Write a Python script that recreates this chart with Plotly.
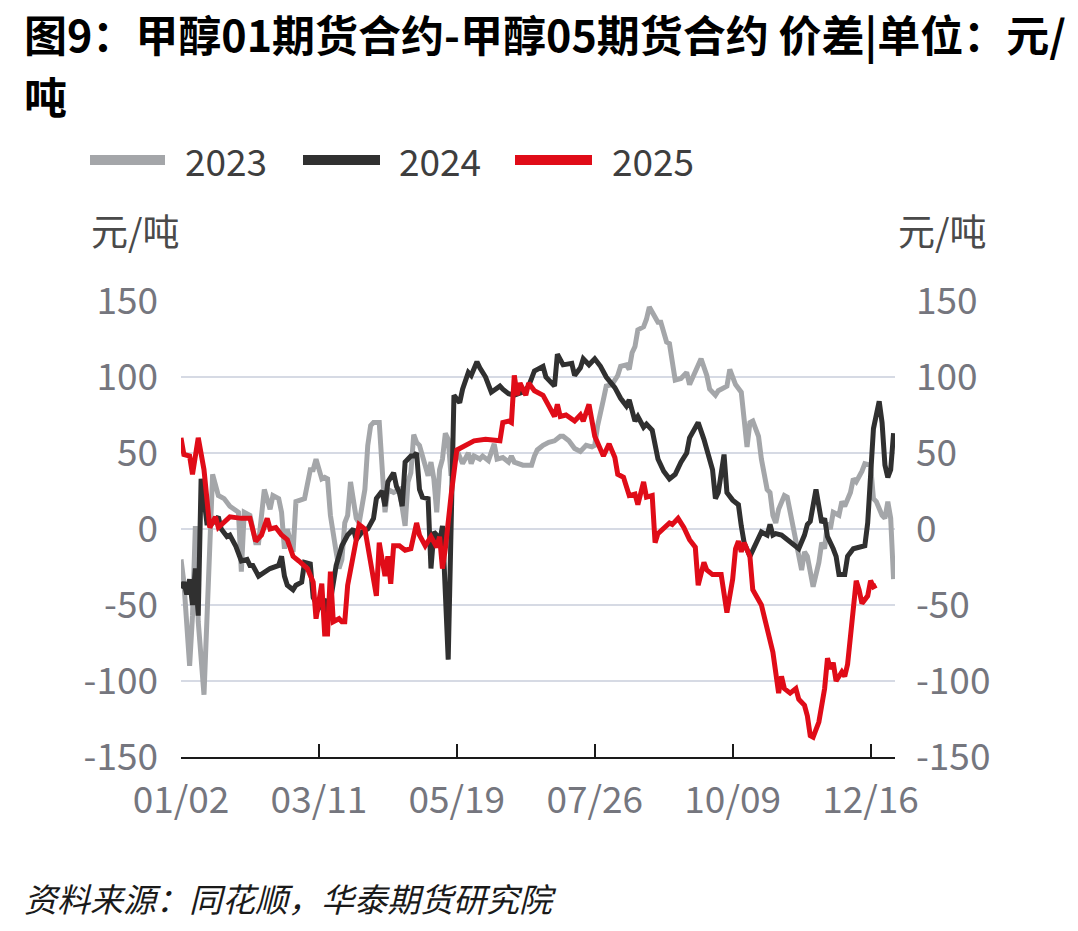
import plotly.graph_objects as go

# ---------------- data (x = trading-day index within the year) ----------------
tick_vals = [0, 48, 96, 144, 192, 240, 248.5]
tick_text = ["01/02", "03/11", "05/19", "07/26", "10/09", "12/16", ""]
y_ticks = [-150, -100, -50, 0, 50, 100, 150]
y_tick_text = ["-150", "-100", "-50", "0", "50", "100", "150"]

x2023 = [0, 1, 3, 4, 5, 6, 8, 9, 10, 11, 13, 15, 17, 20, 21, 22, 24, 26, 27, 29,
         31, 32, 34, 35, 36, 37, 39, 40, 43, 45, 46, 47, 49, 50, 51, 52, 54, 55, 56, 57,
         58, 59, 61, 62, 64, 65, 66, 67, 69, 70, 71, 72, 74, 76, 78, 79, 80, 81, 82, 83,
         85, 86, 87, 88, 89, 90, 91, 92, 93, 94, 96, 97, 98, 100, 101, 102, 104, 105, 107, 109,
         110, 112, 114, 115, 116, 119, 122, 123, 124, 126, 128, 130, 132, 133, 135, 137, 139, 141, 143, 144,
         145, 147, 148, 150, 152, 153, 155, 156, 157, 158, 159, 161, 162, 163, 164, 165, 166, 167, 169, 170,
         171, 172, 174, 176, 177, 179, 181, 183, 184, 186, 187, 190, 191, 193, 195, 196, 197, 198, 199, 201,
         202, 204, 205, 206, 207, 208, 210, 211, 213, 215, 216, 217, 218, 219, 220, 222, 223, 224, 225, 226,
         227, 229, 230, 231, 233, 234, 235, 237, 238, 240, 241, 242, 244, 245, 246, 247, 248]
y2023 = [-20, -35, -90, -57, 2, -61, -109, -61, 4, 36, 22, 20, 15, 11, -28, 11, 9, -9, -9, 26,
         13, 22, 20, 11, -13, 0, -15, 18, 20, 39, 39, 46, 33, 34, 33, 9, -15, -26, -20, 4,
         9, 31, 7, 4, 26, 55, 68, 70, 70, 42, 11, 26, 24, 26, 2, 31, 37, 62, 57, 55,
         42, 35, 44, 33, 11, 39, 46, 63, 59, 35, 52, 48, 43, 50, 43, 48, 46, 48, 45, 56,
         46, 47, 44, 48, 44, 42, 42, 48, 52, 55, 57, 58, 61, 61, 58, 53, 51, 55, 54, 55,
         68, 85, 94, 95, 101, 107, 108, 105, 116, 120, 131, 133, 138, 146, 143, 140, 136, 136, 123, 122,
         111, 98, 99, 103, 95, 103, 112, 101, 92, 88, 91, 94, 105, 95, 90, 72, 54, 70, 71, 61,
         46, 26, 24, 9, 4, 13, 22, 21, 0, -18, -27, -15, -18, -28, -38, -22, -9, -13, 4, 0,
         11, 9, 18, 15, 24, 33, 31, 38, 43, 42, 20, 18, 9, 7, 18, 7, -33]

x2024 = [0, 1, 2, 3, 4, 5, 6, 7, 8, 9, 11, 13, 14, 16, 17, 19, 21, 23, 24, 25,
         27, 29, 31, 34, 35, 36, 37, 39, 40, 42, 43, 45, 46, 48, 50, 51, 53, 54, 56, 58,
         60, 61, 63, 65, 67, 68, 70, 71, 72, 74, 75, 76, 77, 78, 80, 81, 82, 83, 84, 86,
         87, 88, 89, 90, 91, 92, 93, 95, 96, 97, 98, 100, 101, 103, 104, 106, 108, 111, 112, 114,
         116, 119, 121, 123, 126, 127, 130, 131, 133, 135, 136, 137, 139, 140, 142, 144, 146, 148, 151, 153,
         155, 156, 158, 159, 161, 162, 164, 166, 168, 170, 172, 174, 176, 177, 179, 180, 182, 184, 185, 186,
         187, 189, 190, 192, 194, 195, 196, 198, 200, 202, 204, 205, 206, 207, 209, 211, 213, 215, 217, 218,
         219, 221, 222, 223, 224, 225, 227, 228, 229, 231, 232, 234, 236, 238, 239, 240, 241, 243, 244, 245,
         246, 247, 248]
y2024 = [-39, -35, -43, -33, -50, -26, -57, 33, 20, 4, 4, 8, 0, -5, -4, -11, -21, -20, -24, -24,
         -31, -28, -26, -24, -18, -31, -37, -40, -37, -35, -22, -23, -45, -52, -46, -59, -33, -24, -11, -4,
         0, -7, -2, 0, 7, 20, 25, 15, 31, 37, 28, 24, 15, 44, 48, 48, 50, 26, 21, 20,
         -26, -2, -4, -9, 2, -39, -86, 88, 85, 83, 92, 103, 101, 110, 106, 100, 90, 94, 92, 89,
         88, 90, 94, 104, 107, 100, 94, 115, 108, 109, 109, 101, 106, 112, 108, 112, 107, 100, 93, 86,
         81, 85, 71, 74, 67, 69, 65, 46, 38, 33, 36, 44, 50, 60, 66, 70, 59, 46, 39, 20,
         24, 49, 24, 19, 16, 2, -9, -18, -9, -2, -4, 3, -4, -3, -4, -7, -11, -13, -4, 3,
         5, 26, 15, 4, 7, -5, -13, -18, -30, -30, -18, -13, -12, -11, 4, 35, 66, 84, 70, 42,
         34, 39, 63]

x2025 = [0, 1, 3, 4, 6, 7, 8, 10, 12, 13, 15, 17, 21, 24, 26, 28, 30, 31, 33, 35,
         37, 39, 41, 44, 46, 47, 49, 50, 51, 52, 53, 55, 56, 57, 58, 61, 62, 64, 66, 68,
         69, 71, 72, 73, 74, 76, 78, 80, 82, 83, 85, 87, 89, 90, 91, 92, 94, 96, 97, 99,
         102, 106, 111, 112, 114, 115, 116, 117, 118, 120, 121, 123, 126, 128, 130, 131, 132, 134, 137, 139,
         140, 142, 143, 144, 147, 149, 151, 152, 154, 156, 158, 159, 161, 162, 164, 165, 166, 168, 170, 171,
         173, 175, 177, 179, 180, 182, 183, 185, 188, 190, 192, 193, 194, 195, 196, 198, 199, 202, 204, 206,
         208, 209, 210, 212, 214, 215, 217, 218, 219, 220, 222, 224, 225, 226, 227, 228, 230, 231, 232, 234,
         235, 236, 237, 239, 240, 241, 242]
y2025 = [60, 49, 48, 36, 60, 48, 39, 1, 8, 1, 4, 8, 7, 7, -8, -4, 7, 0, 1, -4,
         -7, -18, -21, -26, -35, -59, -36, -69, -69, -28, -61, -59, -61, -61, -37, -9, 3, 0, -20, -44,
         -9, -31, -18, -36, -11, -11, -14, -13, 4, -4, -11, -5, -12, -5, -26, -13, 22, 52, 53, 55,
         58, 59, 58, 70, 71, 70, 101, 88, 96, 88, 96, 91, 88, 81, 74, 82, 74, 75, 71, 75,
         71, 82, 70, 61, 48, 56, 47, 36, 34, 22, 23, 16, 31, 21, 22, -9, -3, 0, 4, 3,
         7, 1, -7, -12, -37, -22, -27, -30, -30, -55, -33, -13, -8, -15, -9, -18, -40, -50, -66, -81,
         -108, -97, -105, -108, -105, -112, -116, -123, -136, -137, -127, -105, -85, -92, -88, -100, -94, -97, -89, -53,
         -34, -40, -49, -44, -34, -38, -37]

series_names = ["2023", "2024", "2025"]
series_colors = ["#a4a6a9", "#303030", "#e00c18"]

# ---------------- layout geometry (pixels) ----------------
W, H = 1078, 931
L, R, T, B = 181, 895, 301, 757


def pxx(v):
    return (v - L) / (R - L)


def pxy(v):
    return (B - v) / (B - T)


FONT = "Noto Sans CJK SC"
TICK_COLOR = "#75767e"

fig = go.Figure()
fig.add_trace(go.Scatter(x=x2023, y=y2023, mode="lines", name=series_names[0],
                         line=dict(color=series_colors[0], width=5), yaxis="y"))
fig.add_trace(go.Scatter(x=x2024, y=y2024, mode="lines", name=series_names[1],
                         line=dict(color=series_colors[1], width=5), yaxis="y"))
fig.add_trace(go.Scatter(x=x2025, y=y2025, mode="lines", name=series_names[2],
                         line=dict(color=series_colors[2], width=5), yaxis="y2"))

yaxis_common = dict(range=[-150, 150], tickmode="array", tickvals=y_ticks, ticktext=y_tick_text,
                    tickfont=dict(family=FONT, size=37, color=TICK_COLOR),
                    zeroline=False, showline=False, ticks="", fixedrange=True)

fig.update_layout(
    width=W, height=H,
    margin=dict(l=L, r=W - R, t=T, b=H - B, pad=0),
    paper_bgcolor="white", plot_bgcolor="white",
    showlegend=False,
    xaxis=dict(range=[0, 248.5], tickmode="array", tickvals=tick_vals, ticktext=tick_text,
               tickfont=dict(family=FONT, size=37, color=TICK_COLOR),
               showgrid=False, zeroline=False, showline=True, linecolor="#1a1a1a", linewidth=2,
               ticks="inside", ticklen=13, tickwidth=2, tickcolor="#1a1a1a",
               ticklabelstandoff=10),
    yaxis=dict(**yaxis_common, side="left", showgrid=True, gridcolor="#d6dae4", gridwidth=2,
               ticklabelstandoff=22),
    yaxis2=dict(**yaxis_common, side="right", overlaying="y", showgrid=False,
                ticklabelstandoff=20),
)

annotations = []
# title
annotations.append(dict(text="图9：甲醇01期货合约-甲醇05期货合约 价差|单位：元/",
                        x=pxx(22), y=pxy(33), xref="paper", yref="paper",
                        xanchor="left", yanchor="middle", showarrow=False,
                        font=dict(family=FONT, size=43, color="black", weight=700)))
annotations.append(dict(text="吨", x=pxx(22), y=pxy(95), xref="paper", yref="paper",
                        xanchor="left", yanchor="middle", showarrow=False,
                        font=dict(family=FONT, size=43, color="black", weight=700)))
# axis unit labels
for cx in (135, 942):
    annotations.append(dict(text="元/吨", x=pxx(cx), y=pxy(230), xref="paper", yref="paper",
                            xanchor="center", yanchor="middle", showarrow=False,
                            font=dict(family=FONT, size=37, color="#4a4a4a")))
# source
annotations.append(dict(text="资料来源：同花顺，华泰期货研究院", x=pxx(22), y=pxy(898),
                        xref="paper", yref="paper", xanchor="left", yanchor="middle",
                        showarrow=False,
                        font=dict(family=FONT, size=33, color="#1a1a1a", style="italic")))

# manual legend
shapes = []
leg_sym = [(90, 165), (303, 380), (515, 592)]
leg_txt = [183, 397, 610]
for (a, b), tx, name, col in zip(leg_sym, leg_txt, series_names, series_colors):
    shapes.append(dict(type="line", xref="paper", yref="paper",
                       x0=pxx(a), x1=pxx(b), y0=pxy(160), y1=pxy(160),
                       line=dict(color=col, width=10)))
    annotations.append(dict(text=name, x=pxx(tx), y=pxy(160), xref="paper", yref="paper",
                            xanchor="left", yanchor="middle", showarrow=False,
                            font=dict(family=FONT, size=37, color="#3e3e3e")))

fig.update_layout(annotations=annotations, shapes=shapes)

fig.write_html("out.html")
